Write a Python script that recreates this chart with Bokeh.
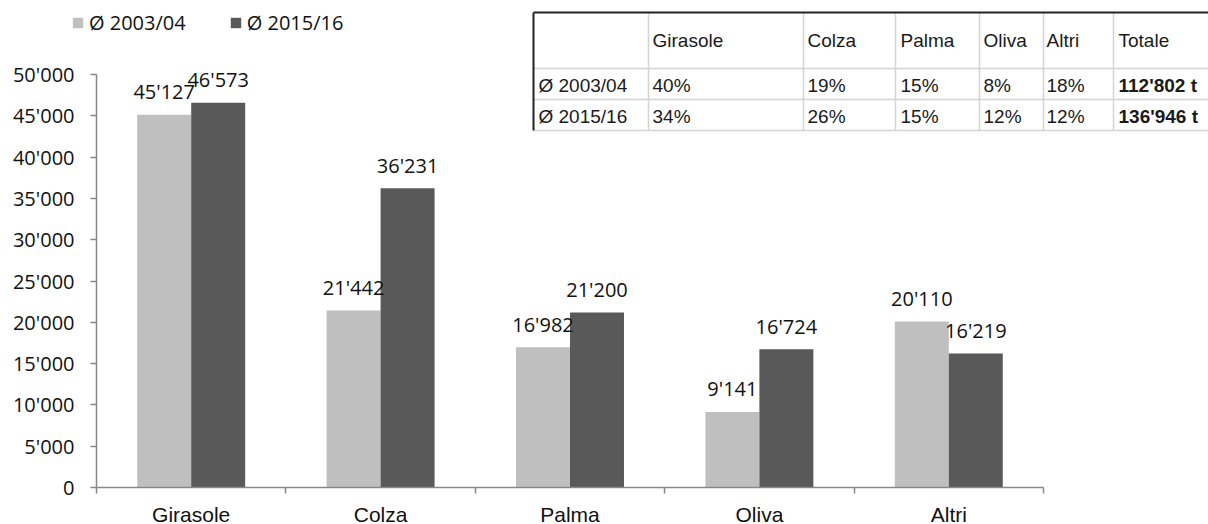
from bokeh.plotting import figure
from bokeh.models import (Range1d, SingleIntervalTicker, FixedTicker, CustomJSTickFormatter,
                          ColumnDataSource, Legend, LegendItem)
from bokeh.core.properties import value
from bokeh.embed import file_html
from bokeh.resources import INLINE

# ---------------- data ----------------
categories = ["Girasole", "Colza", "Palma", "Oliva", "Altri"]
series_names = ["Ø 2003/04", "Ø 2015/16"]
values_2003 = [45127, 21442, 16982, 9141, 20110]
values_2015 = [46573, 36231, 21200, 16724, 16219]
y_max = 50000
y_step = 5000

table_header = ["", "Girasole", "Colza", "Palma", "Oliva", "Altri", "Totale"]
table_row_2003 = ["Ø 2003/04", "40%", "19%", "15%", "8%", "18%", "112'802 t"]
table_row_2015 = ["Ø 2015/16", "34%", "26%", "15%", "12%", "12%", "136'946 t"]

# ---------------- style / layout ----------------
LIGHT = "#BFBFBF"
DARK = "#595959"
AXIS = "#878787"
W, H = 1208, 524
AX_X = 96             # page x of the value axis
AX_Y = 487            # page y of the category axis
CAT_PX = 189.4        # width of one category in px
PX_PER_UNIT = 413 / 50000.0
BAR_W = 0.285


def dx(X):  # page px -> data x
    return (X - AX_X) / CAT_PX


def dy(Y):  # page px -> data y
    return (AX_Y - Y) / PX_PER_UNIT


def fmt(v):
    return f"{v:,}".replace(",", "'")


p = figure(width=W, height=H, output_backend="svg", toolbar_location=None,
           x_range=Range1d(dx(0), dx(W)), y_range=Range1d(dy(H), dy(0)),
           min_border_left=0, min_border_right=0, min_border_top=0, min_border_bottom=0)
p.outline_line_color = None
p.grid.visible = False
p.background_fill_color = "white"
p.border_fill_color = "white"

# ---------------- bars ----------------
idx = list(range(len(categories)))
x_light = [i + 0.5 - BAR_W / 2 for i in idx]
x_dark = [i + 0.5 + BAR_W / 2 for i in idx]
src = ColumnDataSource(dict(x1=x_light, x2=x_dark, v1=values_2003, v2=values_2015,
                            t1=[fmt(v) for v in values_2003], t2=[fmt(v) for v in values_2015]))
r1 = p.vbar(x="x1", top="v1", bottom=0, width=BAR_W, source=src, fill_color=LIGHT, line_color=None)
r2 = p.vbar(x="x2", top="v2", bottom=0, width=BAR_W, source=src, fill_color=DARK, line_color=None)

lab_kw = dict(text_align="center", text_baseline="middle", y_offset=-23,
              text_font=value("Open Sans"), text_font_size="20px", text_color="#111111")
p.text(x="x1", y="v1", text="t1", source=src, **lab_kw)
p.text(x="x2", y="v2", text="t2", source=src, **lab_kw)

# ---------------- axes ----------------
ya = p.yaxis[0]
ya.fixed_location = 0
ya.ticker = SingleIntervalTicker(interval=y_step, num_minor_ticks=0)
ya.bounds = (0, y_max)
ya.formatter = CustomJSTickFormatter(code=r"""return tick.toString().replace(/\B(?=(\d{3})+(?!\d))/g, "'");""")
ya.axis_line_color = AXIS
ya.axis_line_width = 1.5
ya.major_tick_line_color = AXIS
ya.major_tick_line_width = 1.5
ya.major_tick_out = 6
ya.major_tick_in = 0
ya.minor_tick_line_color = None
ya.major_label_standoff = 16
ya.major_label_text_font = "Open Sans"
ya.major_label_text_font_size = "20px"
ya.major_label_text_color = "#111111"

xa = p.xaxis[0]
xa.fixed_location = 0
xa.ticker = FixedTicker(ticks=[i + 0.5 for i in idx], minor_ticks=list(range(len(categories) + 1)))
xa.bounds = (0, len(categories))
xa.formatter = CustomJSTickFormatter(args=dict(cats=categories), code="return cats[Math.floor(tick)];")
xa.axis_line_color = AXIS
xa.axis_line_width = 1.5
xa.major_tick_line_color = None
xa.major_tick_out = 0
xa.major_tick_in = 0
xa.minor_tick_line_color = AXIS
xa.minor_tick_line_width = 1.5
xa.minor_tick_out = 6
xa.minor_tick_in = 0
xa.major_label_standoff = 9
xa.major_label_text_font = "Liberation Sans"
xa.major_label_text_font_size = "21px"
xa.major_label_text_color = "#111111"

# ---------------- legend ----------------
legend = Legend(items=[LegendItem(label=series_names[0], renderers=[r1]),
                       LegendItem(label=series_names[1], renderers=[r2])],
                orientation="horizontal", location=(71, H - 36),
                glyph_width=13, glyph_height=13, label_standoff=5, spacing=43,
                padding=0, margin=0, border_line_color=None, background_fill_alpha=0,
                label_text_font="Open Sans", label_text_font_size="20px",
                label_text_color="#111111", label_height=13)
p.add_layout(legend)

# ---------------- table ----------------
col_lines = [648, 803, 895, 979, 1043, 1113]
row_lines = [68, 99, 130]
T_LEFT, T_TOP, T_RIGHT = 533, 12, 1215
p.segment(x0=[dx(c) for c in col_lines], y0=[dy(T_TOP)] * len(col_lines),
          x1=[dx(c) for c in col_lines], y1=[dy(row_lines[-1])] * len(col_lines),
          line_color="#D4D4D4", line_width=1.5)
p.segment(x0=[dx(T_LEFT)] * len(row_lines), y0=[dy(r) for r in row_lines],
          x1=[dx(T_RIGHT)] * len(row_lines), y1=[dy(r) for r in row_lines],
          line_color="#D4D4D4", line_width=1.5)
p.segment(x0=[dx(T_LEFT), dx(T_LEFT)], y0=[dy(T_TOP), dy(T_TOP)],
          x1=[dx(T_RIGHT), dx(T_LEFT)], y1=[dy(T_TOP), dy(row_lines[-1])],
          line_color="#222222", line_width=2)

text_cols = [538, 652, 807, 900, 983, 1046, 1118]
row_ys = [40, 85, 116]
rows = [table_header, table_row_2003, table_row_2015]
tx, ty, tt, bx, by, bt = [], [], [], [], [], []
for r, row in enumerate(rows):
    for c, s in enumerate(row):
        if not s:
            continue
        if c == len(row) - 1 and r > 0:
            bx.append(dx(text_cols[c])); by.append(dy(row_ys[r])); bt.append(s)
        else:
            tx.append(dx(text_cols[c])); ty.append(dy(row_ys[r])); tt.append(s)
tab_kw = dict(text_align="left", text_baseline="middle", text_font=value("Liberation Sans"),
              text_font_size="19px", text_color="#1a1a1a")
p.text(x=tx, y=ty, text=tt, **tab_kw)
p.text(x=bx, y=by, text=bt, text_font_style="bold", **tab_kw)

open("out.html", "w").write(file_html(p, INLINE))
